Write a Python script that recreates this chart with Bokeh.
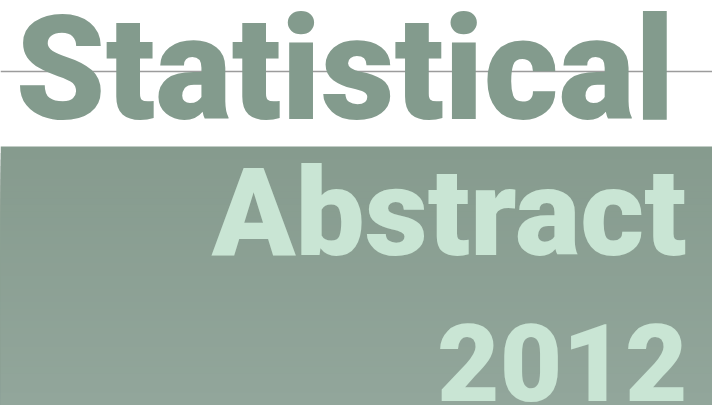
from bokeh.plotting import figure
from bokeh.models import Range1d
from bokeh.core.properties import value
from bokeh.embed import file_html
from bokeh.resources import INLINE

# ---- content ----
title_words = ["Statistical", "Abstract", "2012"]
band_top = 146
band_bottom = 405

# ---- layout / style ----
W, H = 712, 405
FONT = value("'Roboto Black', Roboto")
p = figure(width=W, height=H, output_backend="svg", toolbar_location=None,
           x_range=Range1d(0, W), y_range=Range1d(0, H),
           min_border=0)
p.axis.visible = False
p.grid.visible = False
p.outline_line_color = None
p.background_fill_color = "white"
p.border_fill_color = "white"

def Y(py):
    return H - py

# gradient band (stacked, overlapping to avoid seams)
def mix(c1, c2, t):
    return "#%02x%02x%02x" % tuple(int(round(a + (b - a) * t)) for a, b in zip(c1, c2))

top_c = (0x86, 0x9b, 0x8e)
bot_c = (0x92, 0xa6, 0x9b)
n = 40
step = (band_bottom - band_top) / n
tops, cols = [], []
for i in range(n):
    tops.append(Y(band_top + i * step))
    cols.append(mix(top_c, bot_c, i / (n - 1)))
p.quad(left=[0] * n, right=[W] * n, top=tops, bottom=[Y(band_bottom)] * n,
       fill_color=cols, line_color=None)

# rule line
p.segment(x0=[0], x1=[W], y0=[Y(71)], y1=[Y(71)], line_color="#9c9c9c", line_width=1.5)

# titles
p.text(x=[15], y=[Y(69)], text=[title_words[0]], text_font=FONT,
       text_font_size=value("144px"), text_font_style="bold", text_color="#839b8d",
       text_align="left", text_baseline="alphabetic")
p.text(x=[686], y=[Y(212)], text=[title_words[1]], text_font=FONT,
       text_font_size=value("123px"), text_font_style="bold", text_color="#c9e5d4",
       text_align="right", text_baseline="alphabetic")
p.text(x=[687], y=[Y(362)], text=[title_words[2]], text_font=FONT,
       text_font_size=value("108px"), text_font_style="bold", text_color="#c9e5d4",
       text_align="right", text_baseline="alphabetic")

open("out.html", "w").write(file_html(p, INLINE))
